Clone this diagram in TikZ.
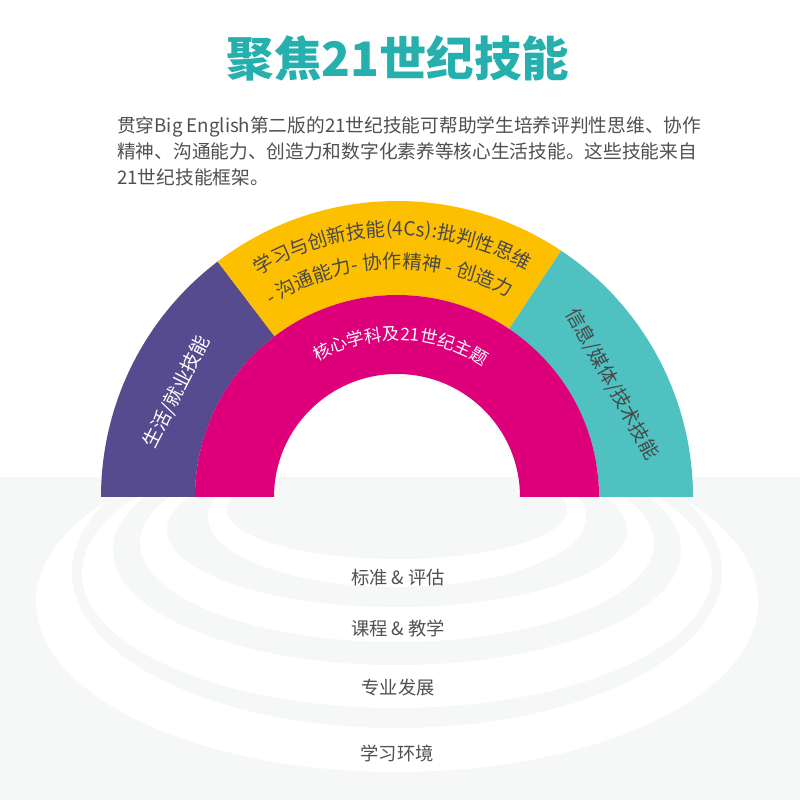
\documentclass[tikz,border=0pt]{standalone}
\usepackage{fontspec}
\setmainfont{Noto Sans CJK SC}
\usetikzlibrary{decorations.text}
\definecolor{titlecol}{RGB}{38,176,173}
\definecolor{bodycol}{RGB}{80,80,80}
\definecolor{pur}{RGB}{86,75,143}
\definecolor{yel}{RGB}{253,192,0}
\definecolor{tea}{RGB}{79,193,193}
\definecolor{mag}{RGB}{222,0,122}
\definecolor{bggray}{RGB}{246,247,247}
\definecolor{darktxt}{RGB}{72,72,72}
\newcommand\myTitleFont{\fontsize{47.5}{50}\selectfont\bfseries}
\newcommand\myBodyFont{\fontsize{18.7}{26}\selectfont}
\newcommand\myArcFont{\fontsize{19.3}{23}\selectfont}
\newcommand\myMagFont{\fontsize{17.3}{22}\selectfont}
\newcommand\myLabFont{\fontsize{18.3}{22}\selectfont}
\tikzset{
  bodyline/.style={anchor=base west, inner sep=0pt, font=\myBodyFont, text=bodycol},
  ringlabel/.style={inner sep=0pt, font=\myLabFont, text=bodycol},
  arclabel/.style={inner sep=0pt, font=\myArcFont},
}
\begin{document}
\begin{tikzpicture}[x=1pt,y=1pt]
\useasboundingbox (0,0) rectangle (800,800);
\fill[white] (0,0) rectangle (800,800);
% gray floor
\fill[bggray] (0,0) rectangle (800,323);
% white rings
\begin{scope}
\clip (0,0) rectangle (800,303);
\fill[white]  (397,198) ellipse [x radius=361pt, y radius=170pt];
\fill[bggray] (397,228) ellipse [x radius=325pt, y radius=156pt];
\fill[white]  (397,227) ellipse [x radius=315pt, y radius=135pt];
\fill[bggray] (397,250) ellipse [x radius=284pt, y radius=115pt];
\fill[white]  (397,257) ellipse [x radius=257pt, y radius=99pt];
\fill[bggray] (397,270) ellipse [x radius=230pt, y radius=77pt];
\fill[white]  (397,283) ellipse [x radius=189pt, y radius=70pt];
\fill[bggray] (397,290) ellipse [x radius=170pt, y radius=49pt];
\end{scope}
% arch
\begin{scope}[shift={(397,303)}]
\fill[pur] (180:296pt) arc[start angle=180, end angle=127.3, radius=296pt]
  -- (127.3:202pt) arc[start angle=127.3, end angle=180, radius=202pt] -- cycle;
\fill[yel] (127.3:296pt) arc[start angle=127.3, end angle=56.3, radius=296pt]
  -- (56.3:202pt) arc[start angle=56.3, end angle=127.3, radius=202pt] -- cycle;
\fill[tea] (56.3:296pt) arc[start angle=56.3, end angle=0, radius=296pt]
  -- (0:202pt) arc[start angle=0, end angle=56.3, radius=202pt] -- cycle;
\fill[mag] (180:202pt) arc[start angle=180, end angle=0, radius=202pt]
  -- (0:123pt) arc[start angle=0, end angle=180, radius=123pt] -- cycle;
% labels in the arch
\node[arclabel, name=life, rotate=63, text=white] at (154.5:244pt) {生活/就业技能};
\node[arclabel, name=info, rotate=-61, text=darktxt] at (27.7:243pt) {信息/媒体/技术技能};
\path[decorate, decoration={text along path, text align=center,
  text={|\myArcFont\color{darktxt}|学习与创新技能(4Cs):批判性思维}}]
  (161.1:261.4pt) arc[start angle=161.1, end angle=21.1, radius=261.4pt];
\path[decorate, decoration={text along path, text align=center,
  text={|\myArcFont\color{darktxt}|- 沟通能力- 协作精神 - 创造力}}]
  (162:228.7pt) arc[start angle=162, end angle=22, radius=228.7pt];
\path[decorate, decoration={text along path, text align=center,
  text={|\myMagFont\color{white}|核心学科及21世纪主题}}]
  (148.5:156.5pt) arc[start angle=148.5, end angle=28.5, radius=156.5pt];
\end{scope}
% title and paragraph
\node[name=title, inner sep=0pt, font=\myTitleFont, text=titlecol] at (398,741.5) {聚焦21世纪技能};
\node[bodyline, name=para1] at (117,667.7) {贯穿Big English第二版的21世纪技能可帮助学生培养评判性思维、协作};
\node[bodyline, name=para2] at (117,641.7) {精神、沟通能力、创造力和数字化素养等核心生活技能。这些技能来自};
\node[bodyline, name=para3] at (117,615.7) {21世纪技能框架。};
% ring labels
\node[ringlabel, name=std] at (398,222) {标准 \& 评估};
\node[ringlabel, name=cur] at (398,171.5) {课程 \& 教学};
\node[ringlabel, name=pro] at (398,112) {专业发展};
\node[ringlabel, name=env] at (397,47) {学习环境};
\end{tikzpicture}
\end{document}
